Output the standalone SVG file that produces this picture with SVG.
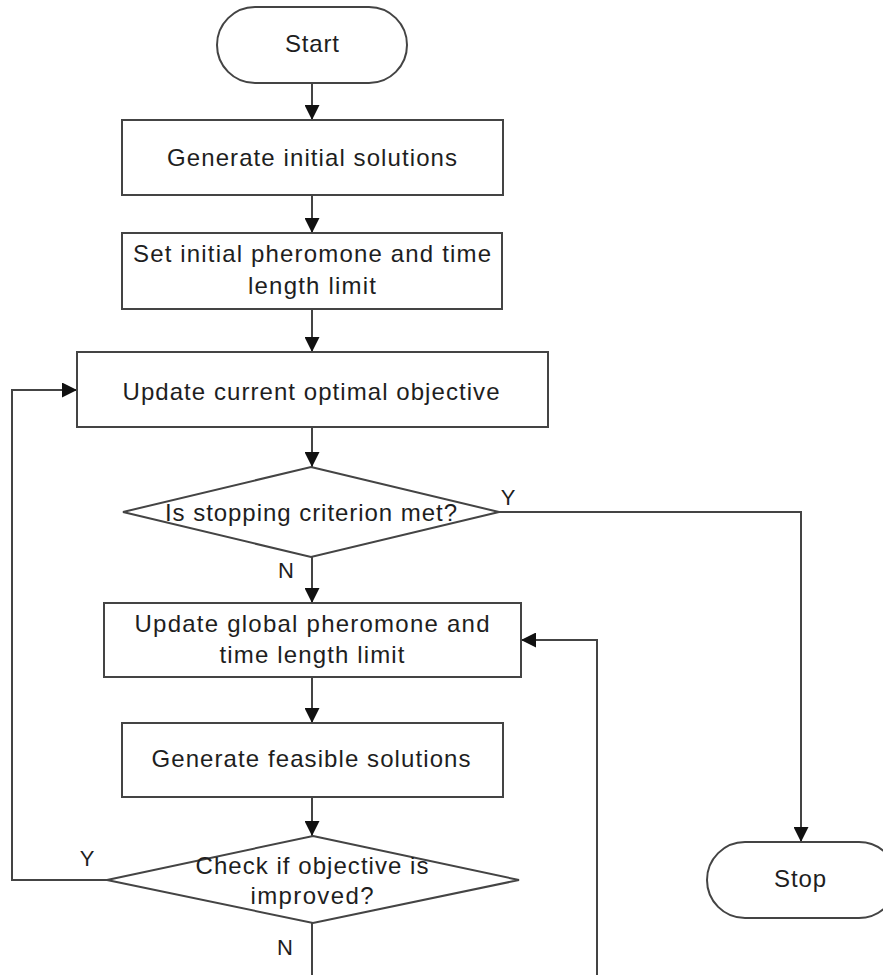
<svg xmlns="http://www.w3.org/2000/svg" width="883" height="975" viewBox="0 0 883 975">
<style>
.shape{fill:#ffffff;stroke:#444444;stroke-width:2}
.conn{fill:none;stroke:#444444;stroke-width:2}
.t{font-family:"Liberation Sans",Arial,sans-serif;font-size:24px;fill:#1e1e1e;text-anchor:middle}
.lbl{font-family:"Liberation Sans",Arial,sans-serif;font-size:22px;fill:#1e1e1e;text-anchor:middle}
</style>
<defs>
<marker id="arr" viewBox="0 0 10 10" refX="10" refY="5" markerWidth="15" markerHeight="15" markerUnits="userSpaceOnUse" orient="auto">
<path d="M0,0 L10,5 L0,10 Z" fill="#111111"/>
</marker>
</defs>
<rect width="883" height="975" fill="#ffffff"/>
<g id="connectors">
<line class="conn" x1="312" y1="83" x2="312" y2="120" marker-end="url(#arr)"/>
<line class="conn" x1="312" y1="195" x2="312" y2="233" marker-end="url(#arr)"/>
<line class="conn" x1="312" y1="309" x2="312" y2="352" marker-end="url(#arr)"/>
<line class="conn" x1="312" y1="427" x2="312" y2="467" marker-end="url(#arr)"/>
<path class="conn" d="M499,512 H801 V842" marker-end="url(#arr)"/>
<line class="conn" x1="312" y1="557" x2="312" y2="603" marker-end="url(#arr)"/>
<line class="conn" x1="312" y1="677" x2="312" y2="723" marker-end="url(#arr)"/>
<line class="conn" x1="312" y1="797" x2="312" y2="836" marker-end="url(#arr)"/>
<path class="conn" d="M107,880 H12 V390 H77" marker-end="url(#arr)"/>
<path class="conn" d="M312,923 V990 H597 V640 H521" marker-end="url(#arr)"/>
<text class="lbl" x="508" y="505">Y</text>
<text class="lbl" x="286" y="578">N</text>
<text class="lbl" x="87" y="866">Y</text>
<text class="lbl" x="285" y="955">N</text>
</g>
<g id="start">
<rect class="shape" x="217" y="7" width="190" height="76" rx="38" ry="38"/>
<text class="t" x="312" y="52" textLength="54" lengthAdjust="spacing">Start</text>
</g>
<g id="gen-initial">
<rect class="shape" x="122" y="120" width="381" height="75"/>
<text class="t" x="312" y="166" textLength="290" lengthAdjust="spacing">Generate initial solutions</text>
</g>
<g id="set-initial">
<rect class="shape" x="122" y="233" width="380" height="76"/>
<text class="t" x="312" y="262" textLength="358" lengthAdjust="spacing">Set initial pheromone and time</text>
<text class="t" x="312" y="294" textLength="128" lengthAdjust="spacing">length limit</text>
</g>
<g id="update-current">
<rect class="shape" x="77" y="352" width="471" height="75"/>
<text class="t" x="311" y="400" textLength="377" lengthAdjust="spacing">Update current optimal objective</text>
</g>
<g id="stop-check">
<polygon class="shape" points="311,467 499,512 311,557 123,512"/>
<text class="t" x="311" y="521" textLength="292" lengthAdjust="spacing">Is stopping criterion met?</text>
</g>
<g id="update-global">
<rect class="shape" x="104" y="603" width="417" height="74"/>
<text class="t" x="312" y="632" textLength="355" lengthAdjust="spacing">Update global pheromone and</text>
<text class="t" x="312" y="663" textLength="185" lengthAdjust="spacing">time length limit</text>
</g>
<g id="gen-feasible">
<rect class="shape" x="122" y="723" width="381" height="74"/>
<text class="t" x="311" y="767" textLength="319" lengthAdjust="spacing">Generate feasible solutions</text>
</g>
<g id="improve-check">
<polygon class="shape" points="313,836 519,880 313,923 107,880"/>
<text class="t" x="312" y="874" textLength="233" lengthAdjust="spacing">Check if objective is</text>
<text class="t" x="312" y="904" textLength="123" lengthAdjust="spacing">improved?</text>
</g>
<g id="stop">
<rect class="shape" x="707" y="842" width="190" height="76" rx="38" ry="38"/>
<text class="t" x="800" y="887" textLength="52" lengthAdjust="spacing">Stop</text>
</g>
</svg>
